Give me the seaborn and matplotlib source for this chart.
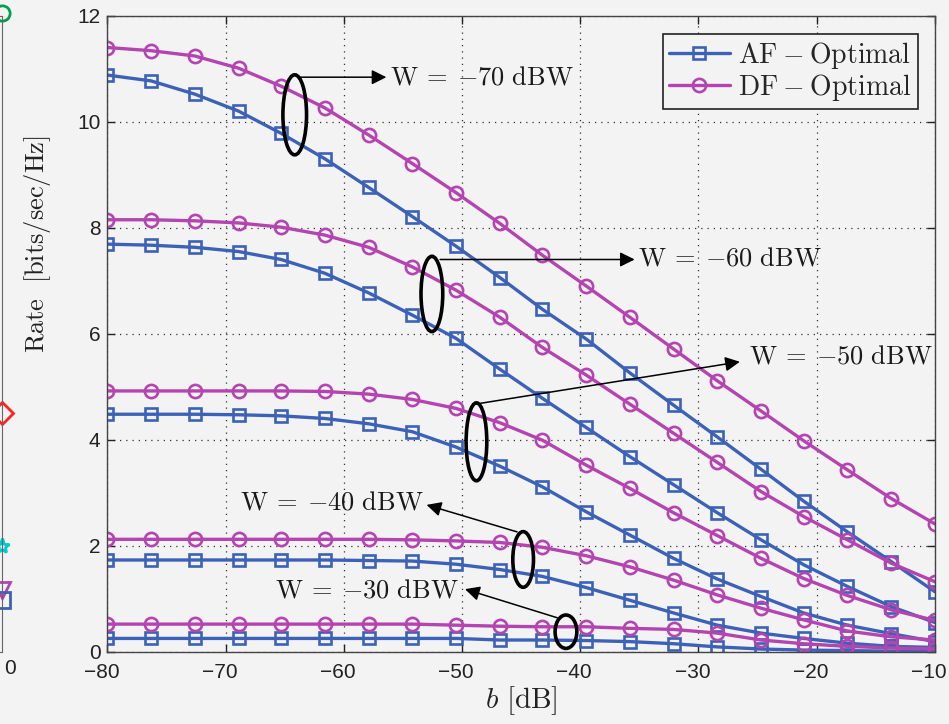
import numpy as np
import pandas as pd
import matplotlib
matplotlib.use("Agg")
import matplotlib.pyplot as plt
from matplotlib.patches import Ellipse
from matplotlib.transforms import ScaledTranslation
import seaborn as sns

# b [dB] grid (20 points)
b_db = [-80, -76.3, -72.6, -68.9, -65.3, -61.6, -57.9, -54.2, -50.5, -46.8,
        -43.2, -39.5, -35.8, -32.1, -28.4, -24.7, -21.1, -17.4, -13.7, -10]

# AF - Optimal rates for each W
af_70 = [10.88, 10.77, 10.52, 10.20, 9.78, 9.30, 8.76, 8.21, 7.65, 7.06,
         6.46, 5.90, 5.26, 4.65, 4.05, 3.44, 2.84, 2.26, 1.70, 1.13]
af_60 = [7.69, 7.67, 7.63, 7.55, 7.40, 7.14, 6.77, 6.35, 5.91, 5.33,
         4.78, 4.23, 3.68, 3.15, 2.62, 2.11, 1.64, 1.23, 0.85, 0.55]
af_50 = [4.48, 4.48, 4.48, 4.47, 4.45, 4.40, 4.30, 4.15, 3.86, 3.50,
         3.11, 2.64, 2.20, 1.76, 1.37, 1.04, 0.73, 0.50, 0.34, 0.19]
af_40 = [1.73, 1.73, 1.73, 1.73, 1.73, 1.73, 1.72, 1.71, 1.65, 1.55,
         1.42, 1.21, 0.97, 0.73, 0.50, 0.35, 0.25, 0.16, 0.10, 0.08]
af_30 = [0.25, 0.25, 0.25, 0.25, 0.25, 0.25, 0.25, 0.25, 0.25, 0.22,
         0.22, 0.21, 0.19, 0.15, 0.09, 0.05, 0.03, 0.02, 0.01, 0.01]

# DF - Optimal rates for each W
df_70 = [11.40, 11.34, 11.24, 11.01, 10.67, 10.26, 9.75, 9.21, 8.66, 8.08,
         7.48, 6.90, 6.31, 5.71, 5.11, 4.54, 3.98, 3.43, 2.89, 2.41]
df_60 = [8.15, 8.15, 8.13, 8.09, 8.01, 7.86, 7.63, 7.26, 6.82, 6.31,
         5.74, 5.22, 4.67, 4.12, 3.57, 3.02, 2.55, 2.11, 1.67, 1.32]
df_50 = [4.92, 4.92, 4.92, 4.92, 4.92, 4.91, 4.86, 4.76, 4.59, 4.32,
         3.99, 3.52, 3.08, 2.62, 2.19, 1.76, 1.38, 1.06, 0.79, 0.59]
df_40 = [2.12, 2.12, 2.12, 2.12, 2.12, 2.12, 2.12, 2.11, 2.09, 2.06,
         1.97, 1.81, 1.60, 1.35, 1.07, 0.82, 0.60, 0.39, 0.28, 0.22]
df_30 = [0.52, 0.52, 0.52, 0.52, 0.52, 0.52, 0.52, 0.52, 0.50, 0.48,
         0.47, 0.47, 0.44, 0.42, 0.35, 0.22, 0.15, 0.10, 0.07, 0.05]

w_levels = [-70, -60, -50, -40, -30]
af_curves = [af_70, af_60, af_50, af_40, af_30]
df_curves = [df_70, df_60, df_50, df_40, df_30]

# long table for seaborn
rows = []
for w, af, dfv in zip(w_levels, af_curves, df_curves):
    for x, ya, yd in zip(b_db, af, dfv):
        rows.append({"b": x, "rate": ya, "scheme": "AF", "W": w})
        rows.append({"b": x, "rate": yd, "scheme": "DF", "W": w})
data = pd.DataFrame(rows)

bg = "#f3f3f3"
blue = "#3c62b8"
pink = "#b444b0"

sns.set_style("ticks")
plt.rcParams["font.family"] = ["Liberation Sans", "DejaVu Sans"]
plt.rcParams["mathtext.fontset"] = "cm"

fig = plt.figure(figsize=(9.49, 7.24), dpi=100, facecolor=bg)
ax = fig.add_axes([0.1131, 0.0999, 0.8721, 0.8784], facecolor=bg)

labels = {"AF": r"$\mathrm{AF}\:{-}\:\mathrm{Optimal}$",
          "DF": r"$\mathrm{DF}\:{-}\:\mathrm{Optimal}$"}
styles = {"AF": (blue, "s", 8), "DF": (pink, "o", 9.5)}
for w in w_levels:
    for sch in ["AF", "DF"]:
        sub = data[(data.W == w) & (data.scheme == sch)]
        col, mk, ms = styles[sch]
        sns.lineplot(data=sub, x="b", y="rate", ax=ax, color=col, marker=mk,
                     markersize=ms, markerfacecolor="none", markeredgecolor=col,
                     markeredgewidth=1.9, linewidth=2.4,
                     label=labels[sch] if w == -70 else None, legend=False)

ax.set_xlim(-80, -10)
ax.set_ylim(0, 12)
ax.set_xticks([-80, -70, -60, -50, -40, -30, -20, -10])
ax.set_yticks([0, 2, 4, 6, 8, 10, 12])
ax.tick_params(direction="in", length=6, width=1, labelsize=15, top=True, right=True,
               colors="#222222")
ax.tick_params(axis="x", pad=8)
ax.tick_params(axis="y", pad=5)
# matlab-style labels sit a bit left of their ticks
shift = ScaledTranslation(-6 / 100, 0, fig.dpi_scale_trans)
for lab in ax.get_xticklabels():
    lab.set_transform(lab.get_transform() + shift)
ax.grid(True, linestyle=(0, (1, 4)), color="#333333", linewidth=0.9)
for s in ax.spines.values():
    s.set_color("#444444")
    s.set_linewidth(1.0)

ax.set_xlabel(r"$b\ [\mathrm{dB}]$", fontsize=21, labelpad=2, color="#222222")
ax.set_ylabel(r"$\mathrm{Rate}\ \ [\mathrm{bits/sec/Hz}]$", fontsize=19, color="#222222")
ax.yaxis.set_label_coords(-0.066, 0.641)

h, l = ax.get_legend_handles_labels()
leg = ax.legend(h, l, loc="upper right", bbox_to_anchor=(0.979, 0.972), borderaxespad=0,
                fancybox=False, edgecolor="#222222", facecolor=bg, framealpha=1,
                fontsize=20, handlelength=2.2, handletextpad=0.3, borderpad=0.22,
                labelspacing=0.05)
leg.get_frame().set_linewidth(1.2)

# ellipses marking each W group
ellipses = [(-64.15, 10.13, 2.0, 1.51), (-52.55, 6.75, 1.84, 1.42),
            (-48.78, 3.96, 1.75, 1.47), (-44.83, 1.74, 1.75, 1.05),
            (-41.21, 0.377, 1.84, 0.63)]
for cx, cy, ew, eh in ellipses:
    ax.add_patch(Ellipse((cx, cy), ew, eh, fill=False, edgecolor="black", linewidth=2.6,
                         zorder=5))

arrow = dict(arrowstyle="-|>", color="black", lw=1.1, mutation_scale=22,
             shrinkA=0, shrinkB=0)
ax.annotate("", xy=(-56.4, 10.84), xytext=(-63.7, 10.84), arrowprops=arrow)
ax.annotate("", xy=(-35.4, 7.40), xytext=(-51.85, 7.40), arrowprops=arrow)
ax.annotate("", xy=(-26.5, 5.47), xytext=(-48.9, 4.67), arrowprops=arrow)
ax.annotate("", xy=(-53.0, 2.77), xytext=(-45.34, 2.26), arrowprops=arrow)
ax.annotate("", xy=(-49.75, 1.18), xytext=(-41.95, 0.64), arrowprops=arrow)

tkw = dict(fontsize=19, color="#1a1a1a", va="center")
ax.text(-56.1, 10.84, r"$\mathrm{W}\:=\:{-}70\ \mathrm{dBW}$", ha="left", **tkw)
ax.text(-35.1, 7.42, r"$\mathrm{W}\:=\:{-}60\ \mathrm{dBW}$", ha="left", **tkw)
ax.text(-25.7, 5.57, r"$\mathrm{W}\:=\:{-}50\ \mathrm{dBW}$", ha="left", **tkw)
ax.text(-53.2, 2.81, r"$\mathrm{W}\:=\:{-}40\ \mathrm{dBW}$", ha="right", **tkw)
ax.text(-50.3, 1.16, r"$\mathrm{W}\:=\:{-}30\ \mathrm{dBW}$", ha="right", **tkw)

# clipped edge of the neighbouring panel on the left
edge_x = [0, 0, 0, 0, 0]
edge_y = [12.05, 4.5, 2.0, 1.16, 0.98]
edge_mk = ["o", "D", "*", "v", "s"]
edge_col = ["#00a050", "#ff2020", "#00c8d0", pink, blue]
ax0 = fig.add_axes([-0.2, 0.0999, 0.2018, 0.8784], facecolor=bg)
for x, y, m, c in zip(edge_x, edge_y, edge_mk, edge_col):
    ax0.plot([x], [y], marker=m, color=c, markerfacecolor="none", markeredgewidth=2,
             markersize=11, clip_on=False)
ax0.set_xlim(-10, 0)
ax0.set_ylim(0, 12)
ax0.set_xticks([])
ax0.set_yticks([])
for s in ax0.spines.values():
    s.set_color("#666666")
fig.text(10 / 949, 1 - 668 / 724, "0", ha="center", va="center", fontsize=15,
         color="#222222")

fig.savefig("out.png", dpi=100, facecolor=bg)
